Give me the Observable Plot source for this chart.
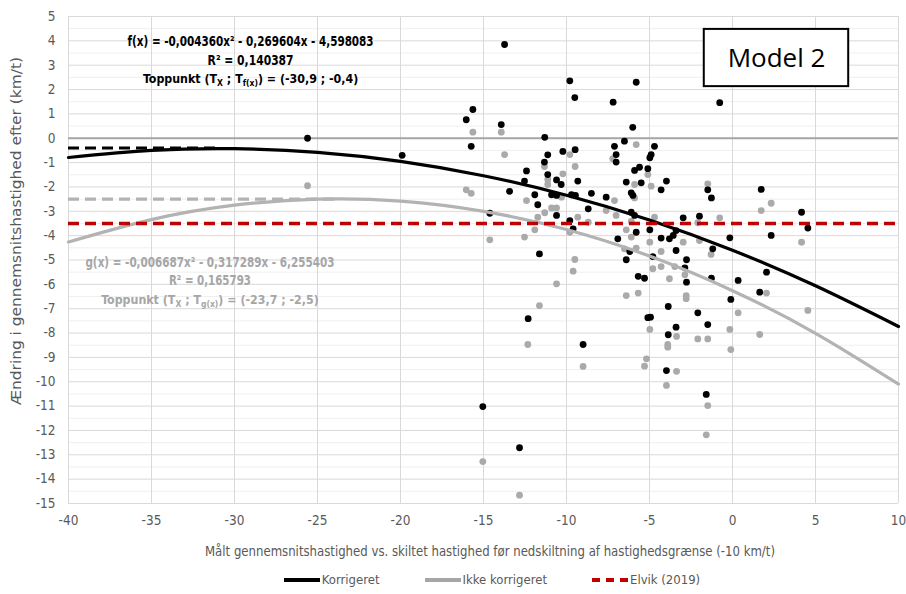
<!DOCTYPE html>
<html><head><meta charset="utf-8">
<script src="https://cdn.jsdelivr.net/npm/d3@7"></script>
<script src="https://cdn.jsdelivr.net/npm/@observablehq/plot@0.6"></script>
<style>
body{margin:0;background:#fff;width:906px;overflow:hidden;}
#legend{display:flex;justify-content:center;align-items:center;gap:45px;padding-left:78px;height:29px;font-family:'DejaVu Sans Condensed','Roboto Condensed','Liberation Sans',sans-serif;font-size:13px;color:#595959;}
#legend .it{display:flex;align-items:center;gap:2px;}
#legend .sw{width:36px;height:0;border-top:4px solid #000;}
</style></head><body>
<div id="chart"></div>
<div id="legend"></div>
<script>
const FONT = "'DejaVu Sans Condensed','Roboto Condensed','Liberation Sans',sans-serif";
const xTicks = [-40,-35,-30,-25,-20,-15,-10,-5,0,5,10];
const yTicks = [-15,-14,-13,-12,-11,-10,-9,-8,-7,-6,-5,-4,-3,-2,-1,0,1,2,3,4,5];
const yMinor = [-14.5,-13.5,-12.5,-11.5,-10.5,-9.5,-8.5,-7.5,-6.5,-5.5,-4.5,-3.5,-2.5,-1.5,-0.5,0.5,1.5,2.5,3.5,4.5];

// Korrigeret (black) points
const korrX = [-25.6,-19.9,-15.64,-16.04,-15.74,-13.93,-13.73,-11.31,-11.13,-11.33,-12.41,-12.53,-11.13,-10.6,-10.32,-10.22,-9.48,-9.32,-9.8,-9.5,
 -13.43,-11.91,-11.73,-10.9,-10.6,-10.6,-14.62,-11.63,-9.8,-9.6,-8.69,-8.5,-12.31,-9.0,-15.04,-12.83,-5.8,-7.19,-0.77,-6.01,
 -6.51,-7.11,-7.01,-7.01,-4.7,-4.9,-4.98,-5.6,-5.9,-5.1,-6.4,-5.5,-3.98,-4.3,-1.49,-6.1,-7.61,-6.0,-1.27,-6.1,
 -5.9,-2.97,-1.99,-5.8,-4.98,-6.91,-4.3,-3.8,-3.57,-3.4,-0.16,-1.19,-6.19,-6.4,-4.8,-3.4,-2.77,-2.87,-2.77,-5.68,
 -5.3,-1.27,0.34,-0.1,-3.87,-2.09,-5.1,-4.94,-1.49,-3.4,-3.87,-3.98,-1.58,1.73,4.16,4.54,2.33,2.05,1.64,-9.7,-9.46];
const korrY = [0.0,-0.7,1.18,0.76,-0.33,0.56,3.85,0.04,-0.68,-0.98,-1.34,-1.76,-1.49,-1.71,-1.9,-0.54,-0.47,-1.76,2.36,1.67,
 -2.18,-2.32,-2.73,-2.32,-2.35,-3.17,-3.08,-4.75,-3.38,-3.72,-2.9,-2.26,-7.41,-8.47,-11.02,-12.71,2.3,1.48,1.46,0.45,
 -0.12,-0.33,-0.67,-0.98,-0.33,-0.67,-0.8,-1.19,-1.32,-1.25,-1.8,-1.83,-1.76,-2.12,-2.12,-2.24,-2.42,-2.35,-2.45,-3.04,
 -3.17,-3.27,-3.2,-3.86,-3.76,-4.13,-4.1,-4.13,-3.99,-3.79,-4.09,-4.54,-4.65,-4.99,-4.86,-4.61,-4.99,-5.32,-5.91,-5.67,
 -5.75,-5.75,-5.84,-6.62,-6.91,-7.17,-7.37,-7.35,-7.65,-7.76,-8.07,-9.54,-10.52,-2.1,-3.04,-3.69,-3.99,-5.5,-6.32,-2.32,-2.35];

// Ikke korrigeret (gray) points
const ikkeX = [-25.6,-15.64,-13.93,-13.73,-11.33,-11.13,-11.13,-10.22,-9.8,-9.48,-16.04,-15.74,-12.41,-10.3,-10.9,-10.6,-11.73,-11.31,-11.91,-12.53,
 -14.62,-9.8,-9.32,-8.69,-9.5,-9.6,-10.6,-11.63,-12.33,-9.0,-15.04,-12.83,-5.8,-7.21,-5.1,-5.9,-4.9,-1.49,-7.11,-5.9,
 -7.61,-7.01,-6.1,-4.7,-2.09,-0.77,-6.4,-6.1,-4.98,-2.97,-1.99,-1.29,-6.51,-5.8,-4.3,-4.8,-4.3,-3.48,-2.87,-3.8,
 0.34,-6.4,-5.68,-2.79,-2.79,-4.98,-3.37,-2.09,-1.49,-0.16,-0.1,-3.9,-3.9,-5.18,-5.3,-3.37,-3.98,-1.49,-1.58,2.33,
 1.73,4.16,4.54,1.64,2.05];
const ikkeY = [-1.95,0.25,0.25,-0.67,-1.16,-1.69,-1.9,-1.46,-0.67,-1.16,-2.12,-2.26,-2.56,-2.42,-2.86,-2.86,-3.24,-3.06,-3.76,-4.06,
 -4.17,-3.86,-3.24,-3.45,-4.98,-5.46,-5.98,-6.87,-8.47,-9.37,-13.28,-14.66,-0.26,-0.84,-1.49,-1.9,-1.97,-1.87,-2.56,-2.45,
 -2.97,-3.17,-3.41,-3.24,-3.47,-3.27,-3.76,-4.06,-4.27,-4.27,-4.2,-4.77,-4.54,-4.51,-4.65,-5.36,-5.27,-5.27,-5.61,-5.77,
 -7.17,-6.46,-6.36,-6.46,-6.59,-7.85,-8.14,-8.24,-8.24,-7.85,-8.68,-8.47,-8.58,-9.06,-9.36,-9.57,-10.15,-10.98,-12.18,-2.67,
 -2.97,-4.27,-7.07,-8.06,-6.36];

// Trend curves
const curveX = [-40,-35,-30,-25,-20,-15,-10,-5,0,5,10];
const curveKorr = [-0.79,-0.50,-0.43,-0.58,-0.95,-1.54,-2.34,-3.36,-4.60,-6.06,-7.73];
const curveIkke = [-4.26,-3.34,-2.75,-2.50,-2.58,-3.00,-3.75,-4.84,-6.26,-8.01,-10.10];

const topKorr = [-30.9, -0.4];
const topIkke = [-23.7, -2.5];
const elvikY = -3.5;

const legendItems = ["Korrigeret", "Ikke korrigeret", "Elvik (2019)"];
const legendColors = ["#000000", "#a6a6a6", "#c00000"];

const ptsK = korrX.map((x,i)=>({x, y:korrY[i]}));
const ptsI = ikkeX.map((x,i)=>({x, y:ikkeY[i]}));
const cK = curveX.map((x,i)=>({x, y:curveKorr[i]}));
const cI = curveX.map((x,i)=>({x, y:curveIkke[i]}));

const modelBox = {x1:-1.7, x2:7.0, y1:2.12, y2:4.47};

const plot = Plot.plot({
  width: 906, height: 565,
  marginLeft: 68, marginRight: 8, marginTop: 16, marginBottom: 62,
  x: {domain: [-40, 10]},
  y: {domain: [-15, 5]},
  style: {fontFamily: FONT, fontSize: "13px", color: "#595959", background: "#fff", overflow: "visible"},
  marks: [
    Plot.ruleY(yMinor, {stroke: "#efefef", strokeWidth: 1}),
    Plot.ruleY(yTicks, {stroke: "#d9d9d9", strokeWidth: 1}),
    Plot.ruleX(xTicks, {stroke: "#d9d9d9", strokeWidth: 1}),
    Plot.ruleY([0], {stroke: "#a6a6a6", strokeWidth: 1.8}),
    Plot.axisX({ticks: xTicks, tickSize: 0, tickPadding: 12, tickFormat: d => String(d), label: null, fontSize: 13.5}),
    Plot.axisY({ticks: yTicks, tickSize: 0, tickPadding: 13, tickFormat: d => String(d), label: null, fontSize: 13.5}),
    Plot.dot(ptsI, {x: "x", y: "y", r: 3.4, fill: "#aaaaaa", stroke: "none"}),
    Plot.dot(ptsK, {x: "x", y: "y", r: 3.4, fill: "#000", stroke: "none"}),
    Plot.line(cI, {x: "x", y: "y", curve: "natural", stroke: "#b3b3b3", strokeWidth: 3.2}),
    Plot.line(cK, {x: "x", y: "y", curve: "natural", stroke: "#000", strokeWidth: 3.2}),
    Plot.ruleY([{y: topKorr[1], x1: -40, x2: topKorr[0]}], {y: "y", x1: "x1", x2: "x2", stroke: "#000", strokeWidth: 3.2, strokeDasharray: "11,6"}),
    Plot.ruleY([{y: topIkke[1], x1: -40, x2: topIkke[0]}], {y: "y", x1: "x1", x2: "x2", stroke: "#b3b3b3", strokeWidth: 3.2, strokeDasharray: "11,6"}),
    Plot.ruleY([{y: elvikY, x1: -40, x2: 10}], {y: "y", x1: "x1", x2: "x2", stroke: "#c00000", strokeWidth: 3.6, strokeDasharray: "11,6"}),
    Plot.rect([modelBox], {x1: "x1", x2: "x2", y1: "y1", y2: "y2", fill: "#fff", stroke: "#000", strokeWidth: 2}),
    Plot.text([modelBox], {x: d => (d.x1 + d.x2) / 2, y: d => (d.y1 + d.y2) / 2, text: () => "Model 2", fontSize: 26, fill: "#000", fontFamily: "'Open Sans',sans-serif", dy: 1})
  ]
});

const svg = d3.select(plot);
const sx = plot.scale("x"), sy = plot.scale("y");

function annot(cx, cy, lines, widths, color) {
  lines.forEach((parts, i) => {
    const t = svg.append("text")
      .attr("x", sx.apply(cx)).attr("y", sy.apply(cy) + i * 18.5)
      .attr("text-anchor", "middle")
      .attr("font-family", FONT).attr("font-weight", "bold")
      .attr("fill", color);
    if (widths[i]) {
      t.attr("font-size", 13.5).attr("textLength", widths[i]).attr("lengthAdjust", "spacingAndGlyphs");
    } else {
      t.attr("font-size", 12.3);
    }
    let shift = 0;
    parts.forEach(p => {
      if (typeof p === "string") {
        const ts = t.append("tspan").text(p);
        if (shift) { ts.attr("dy", -shift); shift = 0; }
      } else {
        t.append("tspan").attr("dy", 3).attr("font-size", 8.5).text(p.sub);
        shift = 3;
      }
    });
  });
}
annot(-29.0, 3.75, [
  ["f(x) = -0,004360x² - 0,269604x - 4,598083"],
  ["R² = 0,140387"],
  ["Toppunkt (T", {sub: "X"}, " ; T", {sub: "f(x)"}, ") = (-30,9 ; -0,4)"]
], [246, 86, 0], "#000");
annot(-31.45, -5.3, [
  ["g(x) = -0,006687x² - 0,317289x - 6,255403"],
  ["R² = 0,165793"],
  ["Toppunkt (T", {sub: "X"}, " ; T", {sub: "g(x)"}, ") = (-23,7 ; -2,5)"]
], [249, 82, 0], "#a6a6a6");

svg.append("text")
  .attr("transform", "translate(21,231) rotate(-90)")
  .attr("text-anchor", "middle").attr("font-family", FONT).attr("font-size", 14).attr("fill", "#595959")
  .attr("textLength", 348).attr("lengthAdjust", "spacingAndGlyphs")
  .text("Ændring i gennemsnitshastighed efter (km/t)");
svg.append("text")
  .attr("x", 490).attr("y", 556)
  .attr("text-anchor", "middle").attr("font-family", FONT).attr("font-size", 13.5).attr("fill", "#595959")
  .attr("textLength", 570).attr("lengthAdjust", "spacingAndGlyphs")
  .text("Målt gennemsnitshastighed vs. skiltet hastighed før nedskiltning af hastighedsgrænse (-10 km/t)");

document.getElementById("chart").append(plot);

const lg = d3.select("#legend");
legendItems.forEach((name, i) => {
  const it = lg.append("div").attr("class", "it");
  const sw = it.append("div").attr("class", "sw").style("border-top-color", legendColors[i]);
  if (i === 2) sw.style("border-top-style", "dashed");
  it.append("span").text(name);
});
</script>
</body></html>
